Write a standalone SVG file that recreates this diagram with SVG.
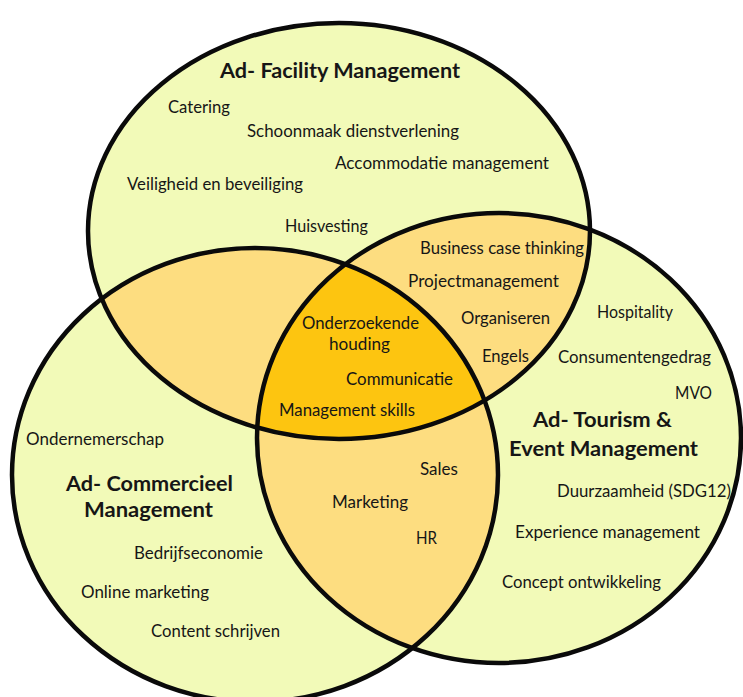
<svg xmlns="http://www.w3.org/2000/svg" width="743" height="697" viewBox="0 0 743 697">
  <style>
    .fill-one { fill: #F2FAB8; }
    .fill-two { fill: #FDDD80; }
    .fill-three { fill: #FDC510; }
    .rim { fill: none; stroke: #0a0a0a; stroke-width: 4.5; }
    text { font-family: Lato, "Open Sans", "Liberation Sans", sans-serif; fill: #161616; }
    .item { font-size: 16.5px; }
    .title { font-size: 21px; font-weight: bold; }
  </style>
  <defs>
    <!-- the three programme sets -->
    <ellipse id="setFacility" cx="339" cy="231" rx="251" ry="208"/>
    <ellipse id="setCommercieel" cx="255" cy="475" rx="243" ry="227"/>
    <ellipse id="setTourism" cx="499" cy="438" rx="242" ry="225"/>
    <clipPath id="clipFacility"><use href="#setFacility"/></clipPath>
    <clipPath id="clipCommercieel"><use href="#setCommercieel"/></clipPath>
    <clipPath id="clipTourism"><use href="#setTourism"/></clipPath>
  </defs>

  <rect width="743" height="697" fill="#ffffff"/>

  <!-- base fills -->
  <g id="areas">
    <use href="#setFacility" class="fill-one"/>
    <use href="#setCommercieel" class="fill-one"/>
    <use href="#setTourism" class="fill-one"/>
    <!-- pairwise overlaps -->
    <use href="#setCommercieel" class="fill-two" clip-path="url(#clipFacility)"/>
    <use href="#setTourism" class="fill-two" clip-path="url(#clipFacility)"/>
    <use href="#setTourism" class="fill-two" clip-path="url(#clipCommercieel)"/>
    <!-- shared core -->
    <g clip-path="url(#clipFacility)">
      <use href="#setTourism" class="fill-three" clip-path="url(#clipCommercieel)"/>
    </g>
  </g>

  <!-- outlines -->
  <g id="outlines">
    <use href="#setFacility" class="rim"/>
    <use href="#setCommercieel" class="rim"/>
    <use href="#setTourism" class="rim"/>
  </g>

  <!-- labels, nudged onto the text baselines -->
  <g id="labels" transform="translate(0,2)">
    <g id="facility">
      <text class="title" x="220" y="76" textLength="240" lengthAdjust="spacingAndGlyphs">Ad- Facility Management</text>
      <text class="item" x="168" y="111" textLength="62" lengthAdjust="spacingAndGlyphs">Catering</text>
      <text class="item" x="247" y="135" textLength="212" lengthAdjust="spacingAndGlyphs">Schoonmaak dienstverlening</text>
      <text class="item" x="335" y="167" textLength="214" lengthAdjust="spacingAndGlyphs">Accommodatie management</text>
      <text class="item" x="127" y="188" textLength="176" lengthAdjust="spacingAndGlyphs">Veiligheid en beveiliging</text>
      <text class="item" x="285" y="230" textLength="83" lengthAdjust="spacingAndGlyphs">Huisvesting</text>
    </g>

    <g id="facility-tourism">
      <text class="item" x="420" y="252" textLength="164" lengthAdjust="spacingAndGlyphs">Business case thinking</text>
      <text class="item" x="408" y="285" textLength="151" lengthAdjust="spacingAndGlyphs">Projectmanagement</text>
      <text class="item" x="461" y="322" textLength="89" lengthAdjust="spacingAndGlyphs">Organiseren</text>
      <text class="item" x="482" y="360" textLength="47" lengthAdjust="spacingAndGlyphs">Engels</text>
    </g>

    <g id="core">
      <text class="item" x="302" y="327" textLength="117" lengthAdjust="spacingAndGlyphs">Onderzoekende</text>
      <text class="item" x="329" y="348" textLength="61" lengthAdjust="spacingAndGlyphs">houding</text>
      <text class="item" x="346" y="383" textLength="107" lengthAdjust="spacingAndGlyphs">Communicatie</text>
      <text class="item" x="279" y="414" textLength="136" lengthAdjust="spacingAndGlyphs">Management skills</text>
    </g>

    <g id="tourism">
      <text class="item" x="597" y="316" textLength="76" lengthAdjust="spacingAndGlyphs">Hospitality</text>
      <text class="item" x="558" y="361" textLength="153" lengthAdjust="spacingAndGlyphs">Consumentengedrag</text>
      <text class="item" x="675" y="397" textLength="37" lengthAdjust="spacingAndGlyphs">MVO</text>
      <text class="title" x="533" y="425" textLength="139" lengthAdjust="spacingAndGlyphs">Ad- Tourism &amp;</text>
      <text class="title" x="509" y="454" textLength="189" lengthAdjust="spacingAndGlyphs">Event Management</text>
      <text class="item" x="557" y="495" textLength="174" lengthAdjust="spacingAndGlyphs">Duurzaamheid (SDG12)</text>
      <text class="item" x="515" y="536" textLength="185" lengthAdjust="spacingAndGlyphs">Experience management</text>
      <text class="item" x="502" y="586" textLength="159" lengthAdjust="spacingAndGlyphs">Concept ontwikkeling</text>
    </g>

    <g id="commercieel">
      <text class="item" x="26" y="443" textLength="138" lengthAdjust="spacingAndGlyphs">Ondernemerschap</text>
      <text class="title" x="66" y="489" textLength="167" lengthAdjust="spacingAndGlyphs">Ad- Commercieel</text>
      <text class="title" x="84" y="515" textLength="129" lengthAdjust="spacingAndGlyphs">Management</text>
      <text class="item" x="134" y="557" textLength="129" lengthAdjust="spacingAndGlyphs">Bedrijfseconomie</text>
      <text class="item" x="81" y="596" textLength="128" lengthAdjust="spacingAndGlyphs">Online marketing</text>
      <text class="item" x="151" y="635" textLength="129" lengthAdjust="spacingAndGlyphs">Content schrijven</text>
    </g>

    <g id="commercieel-tourism">
      <text class="item" x="420" y="473" textLength="38" lengthAdjust="spacingAndGlyphs">Sales</text>
      <text class="item" x="332" y="506" textLength="76" lengthAdjust="spacingAndGlyphs">Marketing</text>
      <text class="item" x="416" y="542" textLength="21" lengthAdjust="spacingAndGlyphs">HR</text>
    </g>
  </g>
</svg>
